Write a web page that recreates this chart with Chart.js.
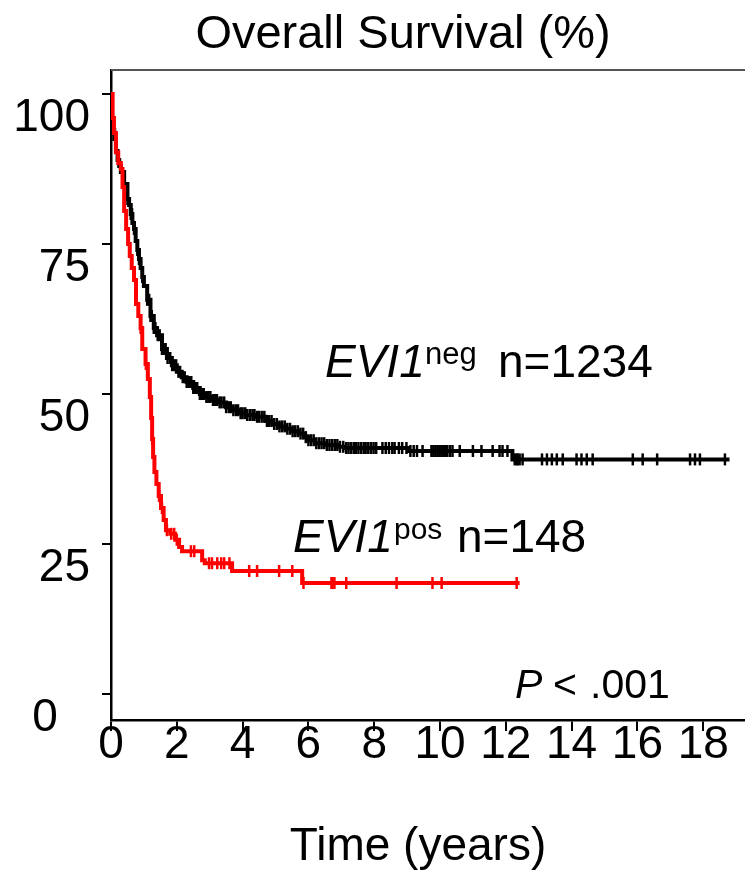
<!DOCTYPE html>
<html><head><meta charset="utf-8">
<script src="https://cdn.jsdelivr.net/npm/chart.js@4/dist/chart.umd.min.js"></script>
<style>html,body{margin:0;padding:0;background:#fff;}#wrap{width:745px;height:873px;}</style>
</head><body><div id="wrap"><canvas id="c" width="745" height="873"></canvas></div>
<script>
// ---- data ----
const xTicks = [0, 2, 4, 6, 8, 10, 12, 14, 16, 18];
const yTicks = [0, 25, 50, 75, 100];

// EVI1neg (black) Kaplan-Meier steps: time (years) and survival (%) from that time on
const negTimes = [0, 0.03, 0.06, 0.1, 0.15, 0.2, 0.25, 0.3, 0.4, 0.5, 0.55, 0.6, 0.65, 0.7, 0.75, 0.8, 0.85, 0.9, 0.95, 1.0, 1.1, 1.2, 1.3, 1.4, 1.55, 1.7, 1.85, 2.0, 2.15, 2.3, 2.5, 2.7, 2.9, 3.1, 3.3, 3.5, 3.7, 3.9, 4.1, 4.4, 4.7, 4.9, 5.1, 5.3, 5.5, 5.7, 5.9, 6.0, 6.2, 6.5, 6.9, 7.1, 9.05, 12.2, 18.8];
const negSurv  = [100, 96, 94, 92.5, 90.5, 89, 88, 87, 85, 82.5, 81.5, 80, 78.5, 77.5, 75.5, 74, 72.5, 71, 69.5, 68, 65.7, 63, 61, 59.8, 57.5, 56, 54.8, 53.7, 52.8, 52, 51, 50, 49.5, 49, 48.6, 47.8, 47.3, 46.8, 46.5, 46.2, 45.5, 45, 44.6, 44.2, 43.8, 43.4, 42.8, 42.3, 41.8, 41.5, 41.2, 41, 40.5, 39.1, 39.1];
const negCensor = [0.09, 0.5, 0.6, 0.64, 0.7, 0.8, 0.85, 0.95, 1.1, 1.16, 1.2, 1.24, 1.3, 1.35, 1.42, 1.48, 1.55, 1.6, 1.66, 1.72, 1.8, 1.86, 1.92, 1.98, 2.05, 2.1, 2.18, 2.24, 2.3, 2.37, 2.44, 2.5, 2.56, 2.62, 2.7, 2.76, 2.82, 2.9, 2.96, 3.02, 3.1, 3.16, 3.22, 3.3, 3.36, 3.44, 3.5, 3.58, 3.64, 3.72, 3.8, 3.86, 3.94, 4.0, 4.08, 4.14, 4.22, 4.3, 4.36, 4.44, 4.5, 4.58, 4.66, 4.74, 4.8, 4.88, 4.96, 5.04, 5.12, 5.2, 5.28, 5.36, 5.44, 5.52, 5.6, 5.68, 5.76, 5.84, 5.92, 6.0, 6.08, 6.16, 6.24, 6.32, 6.4, 6.48, 6.56, 6.64, 6.72, 6.8, 6.88, 6.96, 7.06, 7.15, 7.22, 7.3, 7.38, 7.44, 7.52, 7.6, 7.68, 7.74, 7.82, 7.9, 7.98, 8.06, 8.25, 8.35, 8.45, 8.55, 8.62, 8.75, 8.85, 8.98, 9.1, 9.2, 9.3, 9.47, 9.74, 9.8, 9.86, 9.92, 9.98, 10.04, 10.1, 10.16, 10.22, 10.3, 10.38, 10.6, 11.0, 11.26, 11.6, 11.81, 11.9, 12.05, 12.27, 12.33, 12.36, 12.42, 12.51, 13.1, 13.25, 13.4, 13.55, 13.73, 14.15, 14.3, 14.46, 14.64, 15.86, 16.16, 16.6, 17.6, 17.75, 17.9, 18.66];

// EVI1pos (red)
const posTimes = [0, 0.05, 0.09, 0.15, 0.22, 0.3, 0.35, 0.4, 0.46, 0.52, 0.57, 0.63, 0.7, 0.76, 0.83, 0.9, 0.95, 1.05, 1.12, 1.18, 1.22, 1.25, 1.28, 1.32, 1.38, 1.45, 1.52, 1.6, 1.67, 1.8, 1.95, 2.07, 2.16, 2.77, 2.85, 3.68, 5.81, 12.42];
const posSurv  = [100, 96, 93.5, 90.3, 88.5, 87.5, 84.5, 80.5, 77.5, 75, 73, 71, 69, 65, 63, 61, 57.5, 55, 52.5, 49.5, 46, 42.5, 39.5, 37, 35, 33, 31, 29, 27.3, 26.7, 25.7, 24.5, 23.8, 22.3, 21.8, 20.5, 18.5, 18.5];
const posCensor = [0.9, 1.06, 1.25, 1.46, 1.55, 1.7, 1.83, 1.92, 2.0, 2.43, 2.53, 2.98, 3.07, 3.23, 3.35, 3.44, 3.6, 4.2, 4.44, 5.11, 5.51, 5.85, 6.7, 6.73, 6.79, 7.15, 8.68, 9.77, 10.05, 12.33];

// ---- helpers ----
function stepAt(times, surv, t) {
  let v = surv[0];
  for (let i = 0; i < times.length; i++) { if (times[i] <= t) v = surv[i]; else break; }
  return v;
}
const curve = (times, surv) => times.map((t, i) => ({x: t, y: surv[i]}));
const marks = (cens, times, surv) => cens.map(t => ({x: t, y: stepAt(times, surv, t)}));

const FONT = '"Liberation Sans", Arial, Helvetica, sans-serif';

const textPlugin = {
  id: 'texts',
  afterDraw(chart) {
    const ctx = chart.ctx;
    const area = chart.chartArea;
    ctx.save();
    // top frame line
    ctx.strokeStyle = '#555';
    ctx.lineWidth = 2;
    ctx.beginPath();
    ctx.moveTo(area.left, area.top);
    ctx.lineTo(chart.width, area.top);
    ctx.stroke();

    ctx.fillStyle = '#000';
    ctx.textBaseline = 'alphabetic';
    // title
    ctx.textAlign = 'center';
    ctx.font = '47px ' + FONT;
    ctx.fillText('Overall Survival (%)', 403, 48);
    // x axis title
    ctx.font = '46px ' + FONT;
    ctx.fillText('Time (years)', 418, 860);

    ctx.textAlign = 'left';
    // EVI1neg label
    ctx.font = 'italic 46px ' + FONT;
    ctx.fillText('EVI1', 325, 377);
    ctx.font = '31px ' + FONT;
    ctx.fillText('neg', 425, 364);
    ctx.font = '46px ' + FONT;
    ctx.fillText('n=1234', 498, 377);

    // EVI1pos label
    ctx.font = 'italic 46px ' + FONT;
    ctx.fillText('EVI1', 293, 552);
    ctx.font = '30px ' + FONT;
    ctx.fillText('pos', 394, 539);
    ctx.font = '46px ' + FONT;
    ctx.fillText('n=148', 457, 552);

    // P value
    ctx.font = 'italic 41px ' + FONT;
    ctx.fillText('P', 515, 698);
    ctx.font = '41px ' + FONT;
    ctx.fillText('<', 553, 698);
    ctx.fillText('.001', 590, 698);
    ctx.restore();
  }
};

new Chart(document.getElementById('c'), {
  type: 'scatter',
  data: {
    datasets: [
      { label: 'EVI1pos censored', data: marks(posCensor, posTimes, posSurv), showLine: false,
        pointStyle: 'line', rotation: 90, pointRadius: 6, pointBorderWidth: 2.5,
        borderColor: '#ff0000', backgroundColor: '#ff0000' },
      { label: 'EVI1pos', data: curve(posTimes, posSurv), showLine: true, stepped: 'before',
        borderColor: '#ff0000', borderWidth: 4, pointRadius: 0 },
      { label: 'EVI1neg censored', data: marks(negCensor, negTimes, negSurv), showLine: false,
        pointStyle: 'line', rotation: 90, pointRadius: 6, pointBorderWidth: 2.5,
        borderColor: '#000', backgroundColor: '#000' },
      { label: 'EVI1neg', data: curve(negTimes, negSurv), showLine: true, stepped: 'before',
        borderColor: '#000', borderWidth: 4, pointRadius: 0 }
    ]
  },
  options: {
    responsive: false,
    animation: false,
    devicePixelRatio: 1,
    layout: { padding: { top: 70, left: 0, right: 0, bottom: 0 }, autoPadding: false },
    plugins: { legend: { display: false }, tooltip: { enabled: false }, title: { display: false } },
    scales: {
      x: {
        type: 'linear', min: 0, max: 19.27,
        afterBuildTicks: s => { s.ticks = xTicks.map(v => ({ value: v })); },
        afterFit: s => { s.height = 153; },
        grid: { drawOnChartArea: false, drawTicks: true, tickLength: 11, color: '#000', lineWidth: 2 },
        border: { display: true, color: '#000', width: 2.5 },
        ticks: { color: '#000', font: { family: FONT, size: 46, lineHeight: 1 }, padding: -9,
                 maxRotation: 0, autoSkip: false },
        title: { display: false }
      },
      y: {
        type: 'linear', min: -4.333, max: 104,
        afterBuildTicks: s => { s.ticks = yTicks.map(v => ({ value: v })); },
        afterFit: s => { s.width = 111; },
        grid: { drawOnChartArea: false, drawTicks: true, tickLength: 9, color: '#000', lineWidth: 2 },
        border: { display: true, color: '#000', width: 2.5 },
        ticks: { color: '#000', font: { family: FONT, size: 46 }, padding: 12, labelOffset: 24,
                 autoSkip: false,
                 callback: v => (v === 0 ? '0\u2002\u2009' : String(v)) }
      }
    }
  },
  plugins: [textPlugin]
});
</script>
</body></html>
